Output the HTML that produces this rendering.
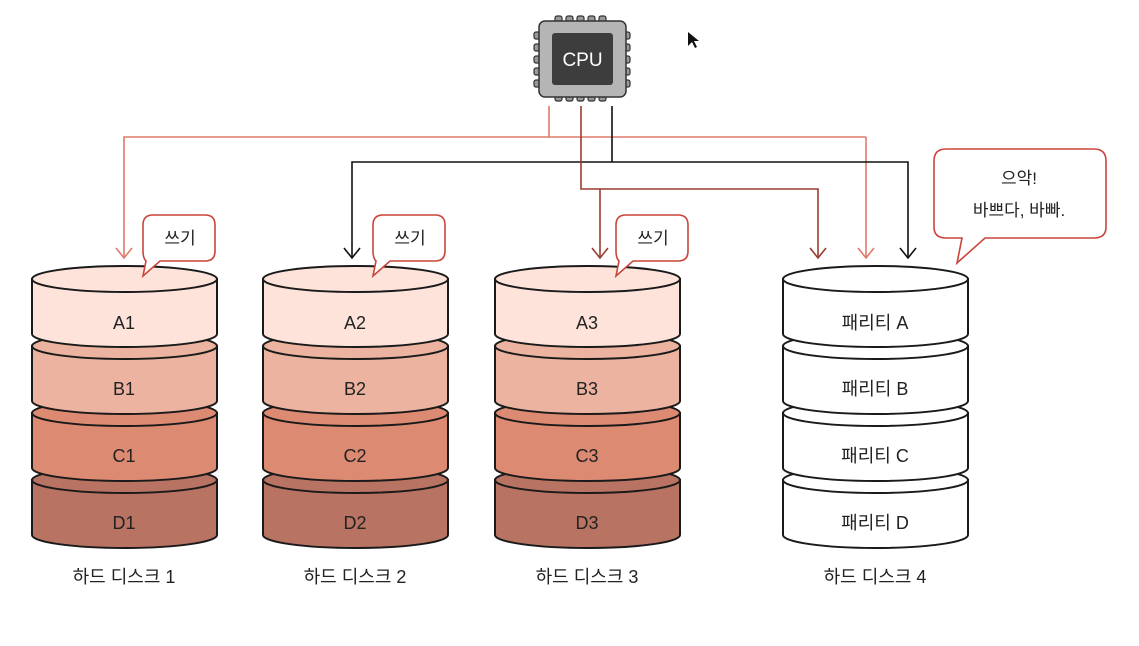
<!DOCTYPE html>
<html><head><meta charset="utf-8"><style>
html,body{margin:0;padding:0;background:#fff;}
svg{display:block;}
text{font-family:"Liberation Sans","Noto Sans CJK KR",sans-serif;}
</style></head><body>
<svg width="1139" height="646" viewBox="0 0 1139 646" xmlns="http://www.w3.org/2000/svg">
<defs>
<g id="lay">
<path d="M0,0 L0,55 A92.5,13 0 0 0 185,55 L185,0 Z" stroke="#1a1a1a" stroke-width="2"/>
<ellipse cx="92.5" cy="0" rx="92.5" ry="13" stroke="#1a1a1a" stroke-width="2"/>
</g>
</defs>
<!-- CPU -->
<g>
<g fill="#999" stroke="#333" stroke-width="1.2">
<rect x="555" y="16" width="7" height="8" rx="2"/><rect x="566" y="16" width="7" height="8" rx="2"/><rect x="577" y="16" width="7" height="8" rx="2"/><rect x="588" y="16" width="7" height="8" rx="2"/><rect x="599" y="16" width="7" height="8" rx="2"/>
<rect x="555" y="93" width="7" height="8" rx="2"/><rect x="566" y="93" width="7" height="8" rx="2"/><rect x="577" y="93" width="7" height="8" rx="2"/><rect x="588" y="93" width="7" height="8" rx="2"/><rect x="599" y="93" width="7" height="8" rx="2"/>
<rect x="534" y="32" width="8" height="7" rx="2"/><rect x="534" y="44" width="8" height="7" rx="2"/><rect x="534" y="56" width="8" height="7" rx="2"/><rect x="534" y="68" width="8" height="7" rx="2"/><rect x="534" y="80" width="8" height="7" rx="2"/>
<rect x="622" y="32" width="8" height="7" rx="2"/><rect x="622" y="44" width="8" height="7" rx="2"/><rect x="622" y="56" width="8" height="7" rx="2"/><rect x="622" y="68" width="8" height="7" rx="2"/><rect x="622" y="80" width="8" height="7" rx="2"/>
</g>
<rect x="539" y="21" width="87" height="76" rx="6" fill="#b5b5b5" stroke="#333" stroke-width="1.5"/>
<rect x="552" y="33" width="61" height="52" rx="3" fill="#3d3d3d"/>
<text x="582.5" y="66" font-size="19" fill="#fff" text-anchor="middle">CPU</text>
</g>
<!-- lines -->
<g fill="none" stroke-width="1.6">
<path d="M549,106 V137 H124 V258 M866,137 H549 M866,137 V258" stroke="#e07a6a"/>
<path d="M116,248 L124,258 L132,248 M858,248 L866,258 L874,248" stroke="#e07a6a"/>
<path d="M612,106 V162 H352 V258 M612,162 H908 V258" stroke="#111"/>
<path d="M344,248 L352,258 L360,248 M900,248 L908,258 L916,248" stroke="#111"/>
<path d="M581,106 V189 H818 V258 M600,189 V258" stroke="#9a3b30"/>
<path d="M592,248 L600,258 L608,248 M810,248 L818,258 L826,248" stroke="#9a3b30"/>
</g>
<!-- disks -->
<g>
<g transform="translate(32,480)"><use href="#lay" fill="#b87363"/></g>
<g transform="translate(32,413)"><use href="#lay" fill="#dd8a73"/></g>
<g transform="translate(32,346)"><use href="#lay" fill="#ebb3a0"/></g>
<g transform="translate(32,279)"><use href="#lay" fill="#fde3da"/></g>
<g transform="translate(263,480)"><use href="#lay" fill="#b87363"/></g>
<g transform="translate(263,413)"><use href="#lay" fill="#dd8a73"/></g>
<g transform="translate(263,346)"><use href="#lay" fill="#ebb3a0"/></g>
<g transform="translate(263,279)"><use href="#lay" fill="#fde3da"/></g>
<g transform="translate(495,480)"><use href="#lay" fill="#b87363"/></g>
<g transform="translate(495,413)"><use href="#lay" fill="#dd8a73"/></g>
<g transform="translate(495,346)"><use href="#lay" fill="#ebb3a0"/></g>
<g transform="translate(495,279)"><use href="#lay" fill="#fde3da"/></g>
<g transform="translate(783,480)"><use href="#lay" fill="#fff"/></g>
<g transform="translate(783,413)"><use href="#lay" fill="#fff"/></g>
<g transform="translate(783,346)"><use href="#lay" fill="#fff"/></g>
<g transform="translate(783,279)"><use href="#lay" fill="#fff"/></g>
</g>
<g font-size="18" fill="#222" text-anchor="middle">
<text x="124" y="329">A1</text><text x="124" y="395">B1</text><text x="124" y="462">C1</text><text x="124" y="529">D1</text>
<text x="355" y="329">A2</text><text x="355" y="395">B2</text><text x="355" y="462">C2</text><text x="355" y="529">D2</text>
<text x="587" y="329">A3</text><text x="587" y="395">B3</text><text x="587" y="462">C3</text><text x="587" y="529">D3</text>
<text x="875" y="329">패리티 A</text><text x="875" y="395">패리티 B</text><text x="875" y="462">패리티 C</text><text x="875" y="529">패리티 D</text>
<text x="124" y="583">하드 디스크 1</text><text x="355" y="583">하드 디스크 2</text><text x="587" y="583">하드 디스크 3</text><text x="875" y="583">하드 디스크 4</text>
</g>
<!-- bubbles -->
<g fill="#fff" stroke="#c9453a" stroke-width="1.6">
<path d="M153,215 H205 Q215,215 215,225 V251 Q215,261 205,261 H160 L143,276 L146,261 Q143,258 143,251 V225 Q143,215 153,215 Z"/>
<path d="M383,215 H435 Q445,215 445,225 V251 Q445,261 435,261 H390 L373,276 L376,261 Q373,258 373,251 V225 Q373,215 383,215 Z"/>
<path d="M626,215 H678 Q688,215 688,225 V251 Q688,261 678,261 H633 L616,276 L619,261 Q616,258 616,251 V225 Q616,215 626,215 Z"/>
<path d="M946,149 H1094 Q1106,149 1106,161 V227 Q1106,238 1094,238 H985 L957,263 L962,238 H946 Q934,238 934,227 V161 Q934,149 946,149 Z"/>
</g>
<g font-size="17" fill="#222" text-anchor="middle">
<text x="180" y="244">쓰기</text><text x="410" y="244">쓰기</text><text x="653" y="244">쓰기</text>
<text x="1019" y="184">으악!</text><text x="1019" y="216">바쁘다, 바빠.</text>
</g>
<path d="M688,32 L688,46 L692,42 L695,48 L697,47 L694,41 L699,41 Z" fill="#111"/>
</svg>
</body></html>
